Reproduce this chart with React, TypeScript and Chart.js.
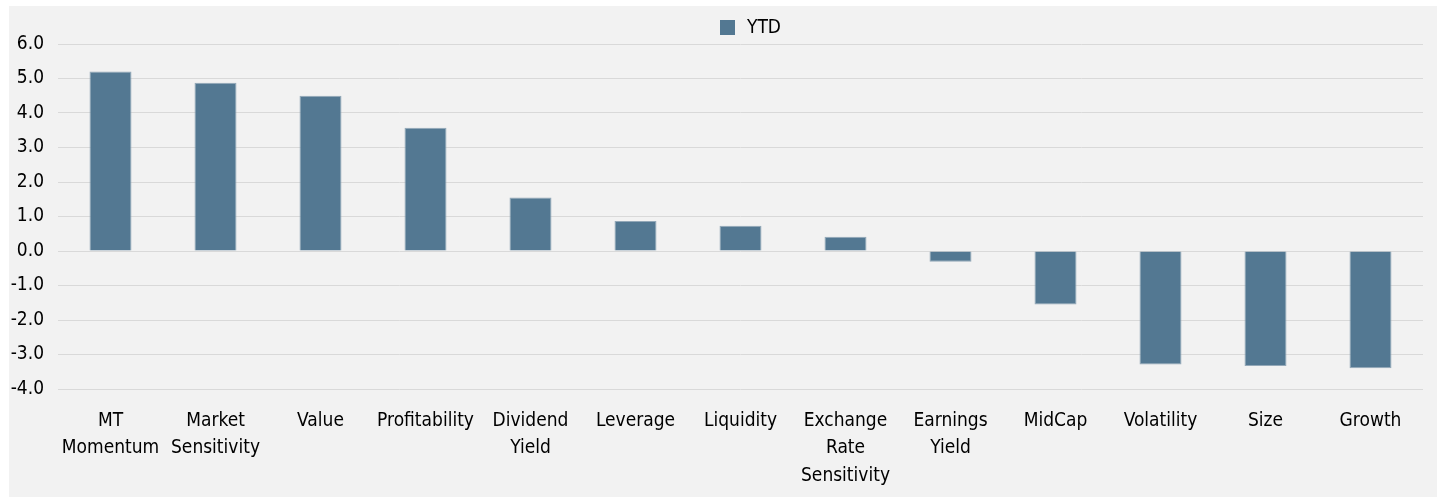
import React, { useEffect, useRef } from "react";
import { Chart, registerables } from "chart.js";

Chart.register(...registerables);

const categories: (string | string[])[] = [
  ["MT", "Momentum"],
  ["Market", "Sensitivity"],
  "Value",
  "Profitability",
  ["Dividend", "Yield"],
  "Leverage",
  "Liquidity",
  ["Exchange", "Rate", "Sensitivity"],
  ["Earnings", "Yield"],
  "MidCap",
  "Volatility",
  "Size",
  "Growth",
];

const ytdValues: number[] = [5.2, 4.88, 4.5, 3.57, 1.55, 0.87, 0.73, 0.41, -0.31, -1.55, -3.29, -3.33, -3.4];

const seriesLabel = "YTD";
const yMin = -4;
const yMax = 6;
const yStep = 1;

const FONT = "'DejaVu Sans Condensed', 'DejaVu Sans', sans-serif";
const FONT_SIZE = 19;
const BAR_COLOR = "#537892";

const legendPlugin = {
  id: "customLegend",
  afterDraw(chart: any) {
    const ctx = chart.ctx;
    const ds = chart.data.datasets[0];
    const boxX = 711;
    const boxY = 14;
    const box = 15;
    ctx.save();
    ctx.fillStyle = ds.backgroundColor;
    ctx.fillRect(boxX, boxY, box, box);
    ctx.fillStyle = "#000";
    ctx.font = `${FONT_SIZE}px ${FONT}`;
    ctx.textBaseline = "middle";
    ctx.textAlign = "left";
    ctx.fillText(ds.label, boxX + box + 12, boxY + box / 2 + 1);
    ctx.restore();
  },
};

export default function App() {
  const ref = useRef<HTMLCanvasElement | null>(null);

  useEffect(() => {
    if (!ref.current) return;
    const chart = new Chart(ref.current, {
      type: "bar",
      data: {
        labels: categories,
        datasets: [
          {
            label: seriesLabel,
            data: ytdValues,
            backgroundColor: BAR_COLOR,
            borderColor: "#93a8b8",
            borderWidth: 1,
            barPercentage: 0.4,
            categoryPercentage: 1.0,
          },
        ],
      },
      plugins: [legendPlugin],
      options: {
        animation: false,
        responsive: false,
        maintainAspectRatio: false,
        layout: { padding: { left: 0, right: 14, top: 38, bottom: 9.6 } },
        plugins: {
          legend: { display: false },
          tooltip: { enabled: false },
        },
        scales: {
          x: {
            afterFit: (scale: any) => {
              scale.height = 98.4;
            },
            grid: { display: false, drawTicks: false },
            border: { display: false },
            ticks: {
              color: "#000",
              font: { family: FONT, size: FONT_SIZE, lineHeight: 1.45 },
              maxRotation: 0,
              autoSkip: false,
              padding: 18,
            },
          },
          y: {
            min: yMin,
            max: yMax,
            afterFit: (scale: any) => {
              scale.width = 49;
            },
            grid: { color: "#d9d9d9", lineWidth: 1, drawTicks: false },
            border: { display: false },
            ticks: {
              stepSize: yStep,
              color: "#000",
              padding: 14,
              font: { family: FONT, size: FONT_SIZE },
              callback: (v: any) => Number(v).toFixed(1),
            },
          },
        },
      },
    });
    return () => chart.destroy();
  }, []);

  return (
    <div
      style={{
        position: "absolute",
        left: 9,
        top: 6,
        width: 1428,
        height: 491,
        background: "#f2f2f2",
      }}
    >
      <canvas ref={ref} width={1428} height={491} style={{ display: "block" }} />
    </div>
  );
}
